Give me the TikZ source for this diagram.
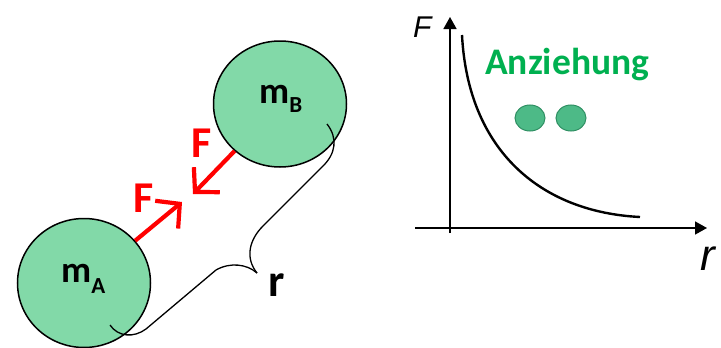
\documentclass[tikz,border=0pt]{standalone}
\usepackage{fontspec}
\setmainfont{Carlito}
\newfontfamily\arialfont{Liberation Sans}
\usetikzlibrary{arrows.meta,shapes.geometric}
\definecolor{ballgreen}{HTML}{82D9A8}
\definecolor{dotgreen}{HTML}{4DBA87}
\definecolor{dotedge}{HTML}{2F8F63}
\definecolor{textgreen}{HTML}{00B050}
\definecolor{forcered}{HTML}{FF0000}
\tikzset{
  ball/.style={ellipse, draw=black, line width=1.5pt, fill=ballgreen, inner sep=0pt},
  dot/.style={ellipse, draw=dotedge, line width=1pt, fill=dotgreen, inner sep=0pt, minimum width=30pt, minimum height=26pt},
  force/.style={draw=forcered, line width=4.2pt, -{Straight Barb[length=17pt,width=36pt]}},
  flabel/.style={text=forcered, font=\bfseries\fontsize{44}{48}\selectfont, anchor=base west, inner sep=0pt},
  axis/.style={line width=1.6pt, -{Triangle[length=12pt,width=13pt]}},
  lbl/.style={anchor=base west, inner sep=0pt},
}
\begin{document}
\begin{tikzpicture}[x=1pt,y=-1pt]
\useasboundingbox (0,0) rectangle (721,348);
% balls
\node[ball, minimum width=133pt, minimum height=126pt] (B) at (280,104) {};
\node[ball, minimum width=133pt, minimum height=129pt] (A) at (84,283) {};
\node[lbl, font=\bfseries\fontsize{37}{40}\selectfont] (mB) at (259,103) {m\raisebox{-9pt}{\fontsize{23}{25}\selectfont B}};
\node[lbl, font=\bfseries\fontsize{37}{40}\selectfont] (mA) at (61,282) {m\raisebox{-11pt}{\fontsize{23}{25}\selectfont A}};
% forces
\coordinate (tipB) at (193,194);
\coordinate (tipA) at (182,202);
\draw[force] (B) -- (tipB);
\draw[force] (A) -- (tipA);
\node[flabel] (F1) at (191,157) {F};
\node[flabel] (F2) at (133,212) {F};
% brace
\coordinate (brB) at (327,124);
\coordinate (brA) at (110,325);
\coordinate (brTip) at (257,273);
\draw[line width=1.3pt] (brB) .. controls (338,138) and (336,154) .. (322,167)
  -- (263,226) .. controls (249,240) and (245,258) .. (brTip);
\draw[line width=1.3pt] (brTip) .. controls (247,264) and (230,262) .. (216,270)
  -- (146,329) .. controls (134,338) and (118,337) .. (brA);
\node[lbl, font=\bfseries\fontsize{46}{50}\selectfont] (r) at (268,296) {r};
% graph
\coordinate (O) at (450,228);
\coordinate (yEnd) at (450,17);
\coordinate (xEnd) at (707,228);
\draw[line width=1.6pt] (450,233) -- (O);
\draw[axis] (O) -- (yEnd);
\draw[line width=1.6pt] (415,228) -- (O);
\draw[axis] (O) -- (xEnd);
\draw[line width=2.4pt] (462,35) .. controls (468,150) and (540,212) .. (640,217);
\node[lbl, font=\arialfont\itshape\fontsize{30}{32}\selectfont] (Flab) at (413,37) {F};
\node[lbl, font=\arialfont\itshape\fontsize{44}{46}\selectfont] (rlab) at (700,270) {r};
\node[lbl, text=textgreen, font=\bfseries\fontsize{37.5}{40}\selectfont] (anz) at (485,74) {Anziehung};
\node[dot] (d1) at (530,118) {};
\node[dot] (d2) at (571,118) {};
\end{tikzpicture}
\end{document}
